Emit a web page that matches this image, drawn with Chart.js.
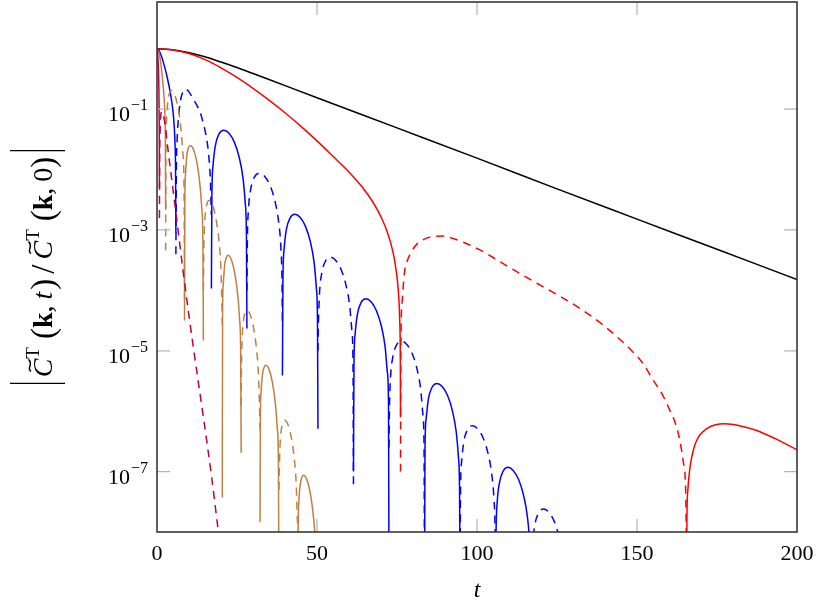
<!DOCTYPE html>
<html>
<head>
<meta charset="utf-8">
<script src="https://cdn.jsdelivr.net/npm/chart.js@4.4.1/dist/chart.umd.min.js"></script>
<style>
  body { margin: 0; background: #fff; }
  canvas { display: block; }
</style>
</head>
<body>
<canvas id="myChart" width="831" height="612"></canvas>
<script>
// Valores: [t, log10 |C(k,t)/C(k,0)|], un sub-array por lóbulo
const xTicks = [0, 50, 100, 150, 200];
const yTickExps = [-1, -3, -5, -7];

const blackExp = [
    [[0, 0], [4, -0.012], [8, -0.045], [12, -0.09], [16, -0.15], [20, -0.22], [25, -0.31], [30, -0.41],
     [35, -0.51], [50, -0.81], [75, -1.31], [100, -1.81], [125, -2.32], [150, -2.82], [175, -3.32], [200, -3.82]]
];

const redSolidExp = [
    [[0, 0], [5, -0.02], [10, -0.08], [15, -0.18], [20, -0.315], [25, -0.475], [30, -0.655], [35, -0.85],
     [40, -1.06], [45, -1.285], [50, -1.525], [55, -1.78], [60, -2.04], [63, -2.22], [65, -2.35], [67, -2.5],
     [69, -2.68], [71, -2.9], [72, -3.04], [73, -3.21], [74, -3.43], [74.8, -3.7], [75.4, -4.0],
     [75.85, -4.5], [76.05, -5.2], [76.1, -6.1]],
    [[165.5, -9], [165.6, -7.8], [165.9, -7.3], [166.4, -7.0], [167.1, -6.76], [168.6, -6.49], [171.8, -6.29],
     [177.5, -6.21], [182, -6.24], [187.4, -6.32], [193, -6.45], [200, -6.64]]
];
const redDashExp = [
    [[76.1, -7.0], [76.2, -5.0], [76.6, -4.2], [77.3, -3.72], [78.3, -3.5], [79.6, -3.35], [81.3, -3.23],
     [83.2, -3.16], [86, -3.11], [89, -3.1], [93, -3.15], [100.9, -3.33], [107, -3.52], [113.4, -3.72],
     [120, -3.92], [126, -4.1], [132.2, -4.3], [140, -4.6], [148, -4.98], [152, -5.22], [155.1, -5.49],
     [158, -5.73], [160.3, -5.99], [162, -6.2], [163.4, -6.49], [164.5, -6.85], [165.2, -7.3], [165.5, -8.5]]
];

const blueSolidExp = [
    [[0, 0], [0.5, -0.02], [1, -0.07], [1.5, -0.14], [2, -0.23], [2.5, -0.32], [3, -0.43], [3.5, -0.55],
     [4, -0.68], [4.5, -0.84], [5, -1.04], [5.4, -1.3], [5.65, -1.6], [5.8, -2.0], [5.9, -3.05]],
    [[17.0, -3.97], [17.15, -2.44], [17.5, -1.94], [18.2, -1.61], [19.4, -1.41], [20.9, -1.35], [22.5, -1.40],
     [24.2, -1.55], [25.7, -1.80], [26.9, -2.15], [27.6, -2.57], [27.95, -3.11], [28.1, -4.63]],
    [[39.2, -5.41], [39.35, -3.83], [39.7, -3.33], [40.4, -3.00], [41.6, -2.80], [43.1, -2.74], [44.7, -2.79],
     [46.4, -2.94], [47.9, -3.19], [49.1, -3.54], [49.8, -3.96], [50.15, -4.50], [50.3, -6.29]],
    [[61.4, -7.0], [61.55, -5.23], [61.9, -4.73], [62.6, -4.40], [63.8, -4.20], [65.3, -4.14], [66.9, -4.19],
     [68.6, -4.34], [70.1, -4.59], [71.3, -4.94], [72.0, -5.36], [72.35, -5.90], [72.5, -9]],
    [[83.6, -9], [83.75, -6.63], [84.1, -6.13], [84.8, -5.80], [86.0, -5.60], [87.5, -5.54], [89.1, -5.59],
     [90.8, -5.74], [92.3, -5.99], [93.5, -6.34], [94.2, -6.76], [94.55, -7.30], [94.7, -9]],
    [[105.8, -9], [105.95, -8.02], [106.3, -7.52], [107.0, -7.19], [108.2, -6.99], [109.7, -6.93], [111.3, -6.98],
     [113.0, -7.13], [114.5, -7.38], [115.7, -7.73], [116.4, -8.15], [116.75, -8.69], [116.9, -9]]
];
const blueDashExp = [
    [[5.9, -3.4], [6.05, -2.0], [6.3, -1.5], [6.7, -1.15], [7.2, -0.9], [7.9, -0.74], [8.75, -0.67], [9.8, -0.7],
     [11, -0.8], [12.3, -0.92], [13.4, -1.04], [14.3, -1.2], [15, -1.35], [15.7, -1.55], [16.3, -1.85],
     [16.7, -2.2], [16.9, -2.6], [17.0, -2.75]],
    [[28.1, -4.0], [28.25, -3.15], [28.6, -2.65], [29.3, -2.32], [30.5, -2.12], [32.0, -2.06], [33.6, -2.11],
     [35.3, -2.26], [36.8, -2.51], [38.0, -2.86], [38.7, -3.28], [39.05, -3.82], [39.2, -4.6]],
    [[50.3, -5.0], [50.45, -4.54], [50.8, -4.04], [51.5, -3.71], [52.7, -3.51], [54.2, -3.45], [55.8, -3.50],
     [57.5, -3.65], [59.0, -3.90], [60.2, -4.25], [60.9, -4.67], [61.25, -5.21], [61.4, -7.23]],
    [[72.5, -6.6], [72.65, -5.93], [73.0, -5.43], [73.7, -5.10], [74.9, -4.90], [76.4, -4.84], [78.0, -4.89],
     [79.7, -5.04], [81.2, -5.29], [82.4, -5.64], [83.1, -6.06], [83.45, -6.60], [83.6, -9]],
    [[94.7, -9], [94.85, -7.33], [95.2, -6.83], [95.9, -6.50], [97.1, -6.30], [98.6, -6.24], [100.2, -6.29],
     [101.9, -6.44], [103.4, -6.69], [104.6, -7.04], [105.3, -7.46], [105.65, -8.00], [105.8, -9]],
    [[116.9, -9], [117.05, -8.71], [117.4, -8.21], [118.1, -7.88], [119.3, -7.68], [120.8, -7.62], [122.4, -7.67],
     [124.1, -7.82], [125.6, -8.07], [126.8, -8.42], [127.5, -8.84]]
];

const brownSolidExp = [
    [[0, 0], [0.5, -0.05], [1.0, -0.17], [1.5, -0.38], [1.9, -0.6], [2.2, -0.8], [2.45, -1.05], [2.6, -1.4], [2.7, -2.67]],
    [[8.6, -4.5], [8.7, -2.525], [8.9, -2.08], [9.3, -1.78], [9.8, -1.645], [10.45, -1.60], [11.2, -1.644],
     [12.0, -1.77], [12.8, -1.99], [13.5, -2.29], [14.0, -2.65], [14.35, -3.22], [14.5, -4.83]],
    [[20.4, -7.43], [20.5, -4.345], [20.7, -3.90], [21.1, -3.60], [21.6, -3.465], [22.25, -3.42], [23.0, -3.464],
     [23.8, -3.59], [24.6, -3.81], [25.3, -4.11], [25.8, -4.47], [26.15, -5.04], [26.3, -6.69]],
    [[32.2, -7.84], [32.3, -6.165], [32.5, -5.72], [32.9, -5.42], [33.4, -5.285], [34.05, -5.24], [34.8, -5.284],
     [35.6, -5.41], [36.4, -5.63], [37.1, -5.93], [37.6, -6.29], [37.95, -6.86], [38.1, -9]],
    [[44.0, -9], [44.1, -7.985], [44.3, -7.54], [44.7, -7.24], [45.2, -7.105], [45.85, -7.06], [46.6, -7.104],
     [47.4, -7.23], [48.2, -7.45], [48.9, -7.75], [49.4, -8.11], [49.75, -8.68], [49.9, -9]]
];
const brownDashExp = [
    [[2.7, -3.34], [2.8, -1.615], [3.0, -1.17], [3.4, -0.87], [3.9, -0.735], [4.55, -0.69], [5.3, -0.734],
     [6.1, -0.86], [6.9, -1.08], [7.6, -1.38], [8.1, -1.74], [8.45, -2.31], [8.6, -4.17]],
    [[14.5, -4.0], [14.6, -3.435], [14.8, -2.99], [15.2, -2.69], [15.7, -2.555], [16.35, -2.51], [17.1, -2.554],
     [17.9, -2.68], [18.7, -2.90], [19.4, -3.20], [19.9, -3.56], [20.25, -4.13], [20.4, -4.6]],
    [[26.3, -5.9], [26.4, -5.255], [26.6, -4.81], [27.0, -4.51], [27.5, -4.375], [28.15, -4.33], [28.9, -4.374],
     [29.7, -4.50], [30.5, -4.72], [31.2, -5.02], [31.7, -5.38], [32.05, -5.95], [32.2, -6.3]],
    [[38.1, -7.3], [38.2, -7.075], [38.4, -6.63], [38.8, -6.33], [39.3, -6.195], [39.95, -6.15], [40.7, -6.194],
     [41.5, -6.32], [42.3, -6.54], [43.0, -6.84], [43.5, -7.20], [43.85, -7.77], [44.0, -7.9]]
];

const purpleSolidExp = [
    [[0, 0], [0.25, -0.12], [0.45, -0.35], [0.6, -0.7], [0.7, -1.3], [0.76, -2.3]]
];
const purpleDashExp = [
    [[0.76, -2.8], [0.82, -1.9], [0.95, -1.4], [1.15, -1.12], [1.45, -1.04], [1.9, -1.08], [2.5, -1.25],
     [3.5, -1.7], [5.0, -2.33], [6.5, -2.97], [8.2, -3.7], [11.35, -4.94], [14.5, -6.1], [17.1, -7.1],
     [19.2, -8.0], [20.5, -8.5]]
];

const FONT = '"Liberation Serif", "DejaVu Serif", serif';
const DASH = [8, 6];

// Convierte los lóbulos en puntos {x, y}; un null corta la línea entre lóbulos
function toPoints(lobes) {
    const out = [];
    lobes.forEach((lobe, i) => {
        if (i > 0) out.push({ x: lobe[0][0], y: null });
        lobe.forEach(([t, e]) => out.push({ x: t, y: Math.pow(10, e) }));
    });
    return out;
}

function serie(lobes, color, dashed) {
    return {
        data: toPoints(lobes),
        borderColor: color,
        borderWidth: 1.5,
        borderDash: dashed ? DASH : [],
        pointRadius: 0,
        tension: 0.4,
        cubicInterpolationMode: 'monotone',
        spanGaps: false,
        fill: false
    };
}

// Marco, marcas y textos al estilo pgfplots
const axesPlugin = {
    id: 'pgfAxes',
    afterDatasetsDraw(chart) {
        const { ctx, chartArea: a, scales: { x, y } } = chart;
        ctx.save();

        // marcas hacia dentro
        ctx.strokeStyle = '#b4b4b4';
        ctx.lineWidth = 1.2;
        ctx.beginPath();
        xTicks.slice(1, -1).forEach(v => {
            const px = x.getPixelForValue(v);
            ctx.moveTo(px, a.bottom); ctx.lineTo(px, a.bottom - 13);
            ctx.moveTo(px, a.top); ctx.lineTo(px, a.top + 13);
        });
        yTickExps.forEach(e => {
            const py = y.getPixelForValue(Math.pow(10, e));
            ctx.moveTo(a.left, py); ctx.lineTo(a.left + 13, py);
            ctx.moveTo(a.right, py); ctx.lineTo(a.right - 13, py);
        });
        ctx.stroke();

        // marco
        ctx.strokeStyle = '#383838';
        ctx.lineWidth = 1.6;
        ctx.strokeRect(a.left, a.top, a.right - a.left, a.bottom - a.top);

        // etiquetas del eje x
        ctx.fillStyle = '#000';
        ctx.textBaseline = 'alphabetic';
        ctx.textAlign = 'center';
        ctx.font = '22px ' + FONT;
        xTicks.forEach(v => ctx.fillText(String(v), x.getPixelForValue(v), 560));
        ctx.font = 'italic 24px ' + FONT;
        ctx.fillText('t', (a.left + a.right) / 2, 597);

        // etiquetas del eje y: 10^e
        ctx.textAlign = 'right';
        yTickExps.forEach(e => {
            const py = y.getPixelForValue(Math.pow(10, e));
            const sup = '\u2212' + Math.abs(e);
            ctx.font = '16px ' + FONT;
            const w = ctx.measureText(sup).width;
            ctx.fillText(sup, 148, py + 1);
            ctx.font = '22px ' + FONT;
            ctx.fillText('10', 148 - w - 1, py + 12);
        });

        drawYTitle(ctx, 52, (a.top + a.bottom) / 2);
        ctx.restore();
    }
};

// Título vertical |C~T(k,t) / C~T(k,0)|
function drawYTitle(ctx, bx, cy) {
    const it = 'italic 28px ' + FONT, rm = '28px ' + FONT, bd = 'bold 28px ' + FONT;
    const sm = '19px ' + FONT, par = '33px ' + FONT;
    const parts = [
        { bar: true }, { gap: 6 },
        { t: 'C', f: it, tilde: true }, { t: 'T', f: sm, dy: -13 }, { gap: 8 },
        { t: '(', f: par, dy: 2 }, { t: 'k', f: bd }, { t: ',', f: rm }, { gap: 6 }, { t: 't', f: it }, { gap: 2 },
        { t: ')', f: par, dy: 2 }, { gap: 5 }, { t: '/', f: par, dy: 2 }, { gap: 5 },
        { t: 'C', f: it, tilde: true }, { t: 'T', f: sm, dy: -13 }, { gap: 8 },
        { t: '(', f: par, dy: 2 }, { t: 'k', f: bd }, { t: ',', f: rm }, { gap: 6 }, { t: '0', f: rm },
        { t: ')', f: par, dy: 2 }, { gap: 6 }, { bar: true }
    ];
    ctx.save();
    parts.forEach(p => {
        if (p.t) { ctx.font = p.f; p.w = ctx.measureText(p.t).width; }
        else p.w = p.gap || 0;
    });
    const total = parts.reduce((s, p) => s + p.w, 0);
    ctx.translate(bx, cy);
    ctx.rotate(-Math.PI / 2);
    ctx.textAlign = 'left';
    ctx.fillStyle = '#000';
    ctx.strokeStyle = '#000';
    let cx = -total / 2;
    parts.forEach(p => {
        if (p.bar) {
            ctx.lineWidth = 1.3;
            ctx.beginPath(); ctx.moveTo(cx, -42); ctx.lineTo(cx, 13); ctx.stroke();
        } else if (p.t) {
            ctx.font = p.f;
            ctx.fillText(p.t, cx, p.dy || 0);
            if (p.tilde) {
                const mx = cx + p.w * 0.64;
                ctx.lineWidth = 1.5;
                ctx.beginPath();
                ctx.moveTo(mx - 6, -21);
                ctx.bezierCurveTo(mx - 3, -26, mx + 1, -18, mx + 6, -23.5);
                ctx.stroke();
            }
        }
        cx += p.w;
    });
    ctx.restore();
}

const ctx = document.getElementById('myChart').getContext('2d');
const myChart = new Chart(ctx, {
    type: 'line',
    data: {
        datasets: [
            serie(purpleSolidExp, '#bf0040', false),
            serie(purpleDashExp, '#bf0040', true),
            serie(brownSolidExp, '#bf8040', false),
            serie(brownDashExp, '#bf8040', true),
            serie(blueSolidExp, '#0000ff', false),
            serie(blueDashExp, '#0000ff', true),
            serie(redSolidExp, '#ff0000', false),
            serie(redDashExp, '#ff0000', true),
            serie(blackExp, '#000000', false)
        ]
    },
    options: {
        responsive: false,
        animation: false,
        layout: { padding: { left: 157, right: 34, top: 2, bottom: 80 } },
        plugins: { legend: { display: false }, tooltip: { enabled: false } },
        scales: {
            x: { type: 'linear', min: 0, max: 200, display: false },
            y: { type: 'logarithmic', min: 1e-8, max: Math.pow(10, 0.774), display: false }
        }
    },
    plugins: [axesPlugin]
});
</script>
</body>
</html>
